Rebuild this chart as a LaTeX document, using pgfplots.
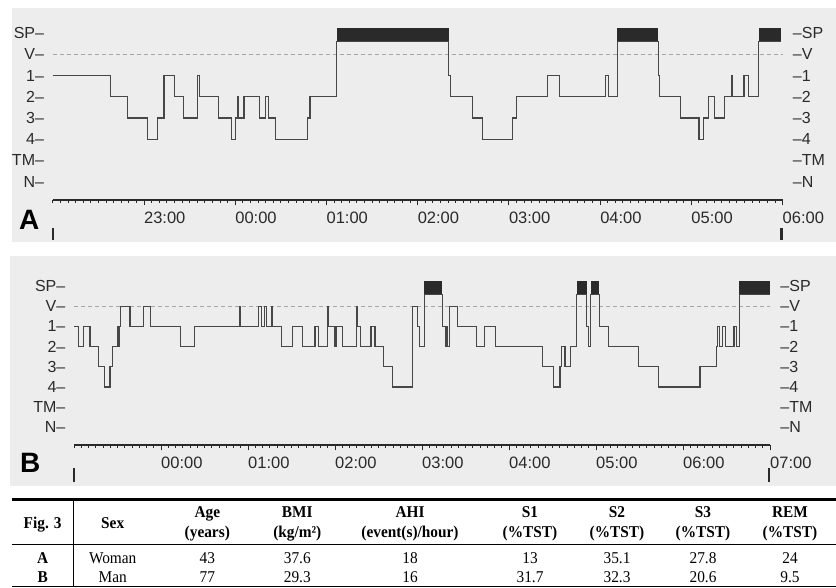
\documentclass[border=0pt]{standalone}
\usepackage{fontspec}
\setmainfont{Liberation Sans}
\newfontfamily\tabfont[FakeStretch=0.93]{Liberation Serif}
\usepackage{pgfplots}
\pgfplotsset{compat=1.18}

\definecolor{ink}{HTML}{2A2A2A}
\definecolor{trace}{HTML}{474747}
\definecolor{panel}{HTML}{EDEDED}
\newcommand\tabrm{\tabfont\fontsize{16.5}{18}\selectfont}
\newcommand\tabbf{\tabrm\bfseries}

% stages: N=0, TM=1, 4=2, 3=3, 2=4, 1=5, V=6, SP bar 6.6-7.23
% x = minutes from the start of the recording
\pgfplotsset{
  hypno/.style={
    scale only axis, anchor=south west, clip=false,
    xmin=0, xmax=480, ymin=-0.87, ymax=7.4,
    ytick={0,...,7},
    tick align=outside,
    y axis line style={draw=none},
    ytick style={draw=none},
    yticklabel style={font=\fontsize{16}{16}\selectfont, text=ink, inner sep=0pt},
  },
  hypnox/.style={
    axis x line*=bottom, axis y line*=left,
    x axis line style={ink, line width=1.1pt},
    xtick={60,120,...,480},
    minor xtick={0,5,...,480},
    major tick length=5.5pt, minor tick length=2.8pt,
    xtick style={ink, line width=0.8pt},
    xticklabel style={anchor=north west, inner sep=0pt,
      font=\fontsize{16.5}{16.5}\selectfont, text=ink, yshift=-6pt},
    yticklabels={N–,TM–,4–,3–,2–,1–,V–,SP–},
    yticklabel style={xshift=-3pt},
  },
  hypnoright/.style={
    axis x line=none, axis y line*=right,
    yticklabels={–N,–TM,–4,–3,–2,–1,–V,–SP},
    yticklabel style={xshift=6pt},
  },
  steps/.style={const plot, trace, line width=1.1pt},
  bar/.style={fill=ink, draw=none},
  vline/.style={black!35, dash pattern=on 4pt off 3pt, line width=0.7pt},
  marker/.style={ink, line width=2.2pt},
}

\begin{document}
\begin{tikzpicture}
\useasboundingbox (0,0) rectangle (836pt,587pt);
\fill[panel] (12pt,345pt) rectangle (836pt,579pt);
\fill[panel] (10pt,101pt) rectangle (836pt,331pt);

% ---------- panel A ----------
\begin{axis}[hypno, hypnox, at={(52.7pt,387pt)}, width=729.8pt, height=175.3pt,
  xticklabels={23:00,00:00,01:00,02:00,03:00,04:00,05:00,06:00}]
\addplot[vline] coordinates {(0,6) (480,6)};
\addplot[bar] coordinates {(186.7,6.6) (260.6,6.6) (260.6,7.23) (186.7,7.23)};
\addplot[bar] coordinates {(371.2,6.6) (398.4,6.6) (398.4,7.23) (371.2,7.23)};
\addplot[bar] coordinates {(464.4,6.6) (479.3,6.6) (479.3,7.23) (464.4,7.23)};
\addplot[steps] coordinates {
(0,5) (38.1,4) (49.1,3) (62.2,2) (68.8,3) (73.2,5) (80.2,4) (86.1,3)
(95.3,5) (96.8,4) (109.3,3) (117.7,2) (120.5,3) (121.5,4) (122.2,3)
(125.8,4) (135.8,3) (139.8,4) (142.0,3) (146.8,2) (167.4,3) (169.2,4)
(186.7,6.6) (260.6,5) (261.7,4) (276.2,3) (282.5,2) (302.5,3) (305.1,4)
(325.2,5) (333.4,4) (363.3,5) (365.3,4) (371.2,6.6) (398.4,5) (399.3,4)
(412.9,3) (425.1,2) (428.2,3) (431.5,4) (435.3,3) (441.8,4) (446.6,5)
(447.3,4) (454.7,5) (457.6,4) (464.4,6.6) (479.3,6.6)};
\addplot[marker] coordinates {(0,-2.19) (0,-2.76)};
\addplot[marker] coordinates {(479.4,-2.19) (479.4,-2.76)};
\end{axis}
\begin{axis}[hypno, hypnoright, at={(52.7pt,387pt)}, width=729.8pt, height=175.3pt]
\addplot[draw=none] coordinates {(0,0)};
\end{axis}

% ---------- panel B ----------
\begin{axis}[hypno, hypnox, at={(74pt,142pt)}, width=696pt, height=167.1pt,
  xticklabels={00:00,01:00,02:00,03:00,04:00,05:00,06:00,07:00}]
\addplot[vline] coordinates {(0,6) (480,6)};
\addplot[bar] coordinates {(241.6,6.6) (254.0,6.6) (254.0,7.23) (241.6,7.23)};
\addplot[bar] coordinates {(346.7,6.6) (353.6,6.6) (353.6,7.23) (346.7,7.23)};
\addplot[bar] coordinates {(356.4,6.6) (362.3,6.6) (362.3,7.23) (356.4,7.23)};
\addplot[bar] coordinates {(458.9,6.6) (480,6.6) (480,7.23) (458.9,7.23)};
\addplot[steps] coordinates {
(0,5) (3.0,4) (6.4,5) (11.0,4) (17.2,3) (20.9,2) (24.8,3) (26.4,4)
(30.1,5) (30.7,4) (31.4,5) (32.2,6) (38.6,5) (47.8,6) (52.9,5) (73.6,4)
(83.0,5) (114.0,6) (114.6,5) (127.4,6) (129.0,5) (131.2,6) (132.9,5)
(136.1,6) (136.9,5) (143.2,4) (150.4,5) (157.5,4) (166.2,5) (168.5,4)
(174.7,6) (175.4,5) (180.0,4) (181.2,5) (185.0,4) (195.0,6) (195.7,5)
(197.7,4) (204.8,5) (207.6,4) (213.3,3) (219.5,2) (233.3,6) (236.8,5)
(238.1,4) (241.6,6.6) (254.0,5) (255.9,4) (256.9,5) (257.6,4) (259.0,6)
(264.6,5) (277.7,4) (282.8,5) (290.4,4) (323.0,3) (330.4,2) (335.2,3)
(336.4,4) (338.6,3) (342.6,4) (346.7,6.6) (353.6,5) (354.7,4) (356.4,6.6)
(362.3,5) (368.5,4) (389.2,3) (403.0,2) (431.7,3) (443.3,4) (444.0,5)
(444.9,4) (447.1,5) (449.0,4) (455.2,5) (456.6,4) (458.9,6.6) (480,6.6)};
\addplot[marker] coordinates {(0,-2.0) (0,-2.7)};
\addplot[marker] coordinates {(479.5,-2.0) (479.5,-2.7)};
\end{axis}
\begin{axis}[hypno, hypnoright, at={(74pt,142pt)}, width=696pt, height=167.1pt]
\addplot[draw=none] coordinates {(0,0)};
\end{axis}

\node[anchor=base west, inner sep=0pt, font=\fontsize{28}{28}\selectfont\bfseries] at (19pt,357pt) {A};
\node[anchor=base west, inner sep=0pt, font=\fontsize{28}{28}\selectfont\bfseries] at (20pt,114pt) {B};

% ---------- table ----------
\draw[line width=2.6pt] (11.7pt,87.3pt) -- (836pt,87.3pt);
\draw[line width=1pt] (11.7pt,42.3pt) -- (836pt,42.3pt);
\draw[line width=1pt] (11.7pt,0.6pt) -- (836pt,0.6pt);
\draw[line width=1.1pt] (73.3pt,87.3pt) -- (73.3pt,0pt);
\begin{scope}[every node/.style={anchor=base, inner sep=0pt}]
\node[font=\tabbf] at (42.7pt,58.3pt) {Fig. 3};
\node[font=\tabbf] at (112.7pt,58.3pt) {Sex};
\node[font=\tabbf] at (207.3pt,69.7pt) {Age};
\node[font=\tabbf] at (207.3pt,49pt) {(years)};
\node[font=\tabbf] at (297.3pt,69.7pt) {BMI};
\node[font=\tabbf] at (297.3pt,49pt) {(kg/m²)};
\node[font=\tabbf] at (410pt,69.7pt) {AHI};
\node[font=\tabbf] at (410pt,49pt) {(event(s)/hour)};
\node[font=\tabbf] at (530pt,69.7pt) {S1};
\node[font=\tabbf] at (530pt,49pt) {(\%TST)};
\node[font=\tabbf] at (617pt,69.7pt) {S2};
\node[font=\tabbf] at (617pt,49pt) {(\%TST)};
\node[font=\tabbf] at (703pt,69.7pt) {S3};
\node[font=\tabbf] at (703pt,49pt) {(\%TST)};
\node[font=\tabbf] at (790pt,69.7pt) {REM};
\node[font=\tabbf] at (790pt,49pt) {(\%TST)};
% row A
\node[font=\tabbf] at (42.7pt,24pt) {A};
\node[font=\tabrm] at (112.7pt,24pt) {Woman};
\node[font=\tabrm] at (207.3pt,24pt) {43};
\node[font=\tabrm] at (297.3pt,24pt) {37.6};
\node[font=\tabrm] at (410pt,24pt) {18};
\node[font=\tabrm] at (530pt,24pt) {13};
\node[font=\tabrm] at (617pt,24pt) {35.1};
\node[font=\tabrm] at (703pt,24pt) {27.8};
\node[font=\tabrm] at (790pt,24pt) {24};
% row B
\node[font=\tabbf] at (42.7pt,5pt) {B};
\node[font=\tabrm] at (112.7pt,5pt) {Man};
\node[font=\tabrm] at (207.3pt,5pt) {77};
\node[font=\tabrm] at (297.3pt,5pt) {29.3};
\node[font=\tabrm] at (410pt,5pt) {16};
\node[font=\tabrm] at (530pt,5pt) {31.7};
\node[font=\tabrm] at (617pt,5pt) {32.3};
\node[font=\tabrm] at (703pt,5pt) {20.6};
\node[font=\tabrm] at (790pt,5pt) {9.5};
\end{scope}
\end{tikzpicture}
\end{document}
